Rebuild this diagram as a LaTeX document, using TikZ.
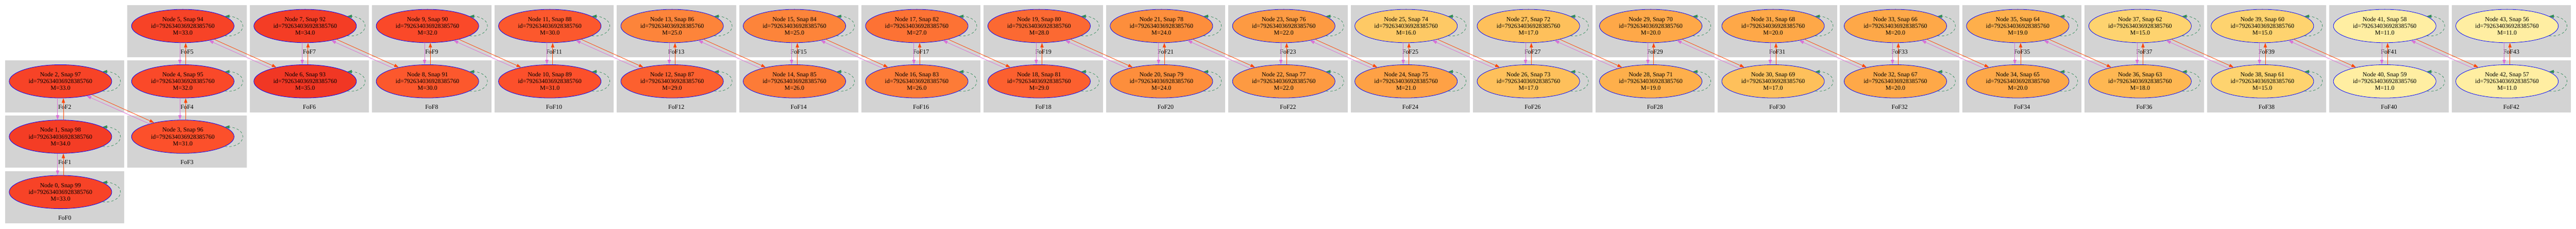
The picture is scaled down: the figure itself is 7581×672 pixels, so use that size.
\documentclass[tikz,border=0pt]{standalone}
\usepackage{fontspec}
\setmainfont{Liberation Serif}
\usetikzlibrary{arrows.meta,calc,shapes.geometric}
\definecolor{clgrey}{HTML}{D3D3D3}
\definecolor{corchid}{HTML}{DA70D6}
\definecolor{cored}{HTML}{FF4500}
\definecolor{cseagreen}{HTML}{2E8B57}
\definecolor{m11}{RGB}{255,238,162}
\definecolor{m15}{RGB}{254,211,111}
\definecolor{m16}{RGB}{254,201,101}
\definecolor{m17}{RGB}{254,192,91}
\definecolor{m18}{RGB}{254,183,82}
\definecolor{m19}{RGB}{254,175,75}
\definecolor{m20}{RGB}{254,168,72}
\definecolor{m21}{RGB}{254,161,69}
\definecolor{m22}{RGB}{253,154,66}
\definecolor{m24}{RGB}{253,142,60}
\definecolor{m25}{RGB}{253,132,58}
\definecolor{m26}{RGB}{253,123,55}
\definecolor{m27}{RGB}{253,114,52}
\definecolor{m28}{RGB}{252,105,50}
\definecolor{m29}{RGB}{252,96,47}
\definecolor{m30}{RGB}{252,88,45}
\definecolor{m31}{RGB}{252,80,43}
\definecolor{m32}{RGB}{250,73,41}
\definecolor{m33}{RGB}{247,67,39}
\definecolor{m34}{RGB}{244,61,37}
\definecolor{m35}{RGB}{241,55,36}
\begin{document}
\begin{tikzpicture}[x=1pt,y=-1pt,
  fofnode/.style={ellipse, draw=blue, line width=1.2pt, minimum width=302pt, minimum height=98pt,
    inner sep=0pt, align=center, font=\fontsize{18.1pt}{20pt}\selectfont},
  foflabel/.style={inner sep=0pt, font=\fontsize{18.1pt}{20pt}\selectfont},
  clusterbox/.style={fill=clgrey},
  oredge/.style={draw=cored, line width=1.2pt, -{Triangle[length=13.5pt,width=9.5pt]}},
  viedge/.style={draw=corchid, line width=1.2pt, -{Triangle[length=13.5pt,width=9.5pt]}},
  selfloop/.style={draw=cseagreen, line width=1.1pt, dash pattern=on 7pt off 6pt,
    -{Triangle[length=13.5pt,width=9.5pt]}}
]
\useasboundingbox (0,0) rectangle (7581,672);
\def\nodelist{0/0/3/33, 1/0/2/34, 2/0/1/33, 3/1/2/31, 4/1/1/32, 5/1/0/33, 6/2/1/35, 7/2/0/34,
  8/3/1/30, 9/3/0/32, 10/4/1/31, 11/4/0/30, 12/5/1/29, 13/5/0/25, 14/6/1/26, 15/6/0/25,
  16/7/1/26, 17/7/0/27, 18/8/1/29, 19/8/0/28, 20/9/1/24, 21/9/0/24, 22/10/1/22, 23/10/0/22,
  24/11/1/21, 25/11/0/16, 26/12/1/17, 27/12/0/17, 28/13/1/19, 29/13/0/20, 30/14/1/17, 31/14/0/20,
  32/15/1/20, 33/15/0/20, 34/16/1/20, 35/16/0/19, 36/17/1/18, 37/17/0/15, 38/18/1/15, 39/18/0/15,
  40/19/1/11, 41/19/0/11, 42/20/1/11, 43/20/0/11}
% clusters and their labels
\foreach \i/\c/\r/\m in \nodelist {
  \fill[clusterbox] (15+360*\c, 15+162.67*\r) rectangle +(351,153);
  \node[foflabel] (f\i) at (190.5+360*\c, 152+162.67*\r) {FoF\i};
}
% nodes
\foreach \i/\c/\r/\m in \nodelist {
  \pgfmathtruncatemacro{\snap}{99-\i}
  \node[fofnode, fill=m\m] (n\i) at (178+360*\c, 76.5+162.67*\r)
    {Node \i, Snap \snap\\id=792634036928385760\\M=\m.0};
}
% vertical pairs (lower \a, upper \b)
\foreach \a/\b in {0/1,1/2,3/4,4/5,6/7,8/9,10/11,12/13,14/15,16/17,18/19,20/21,22/23,
  24/25,26/27,28/29,30/31,32/33,34/35,36/37,38/39,40/41,42/43} {
  \draw[oredge] ([xshift=8.5pt]n\a.north) -- ([xshift=8.5pt]n\b.south);
  \draw[viedge] ([xshift=-8.5pt]n\b.south) -- ([xshift=-8.5pt]n\a.north);
}
% diagonal pairs (upper-left \a, lower-right \b)
\foreach \a/\b in {2/3,5/6,7/8,9/10,11/12,13/14,15/16,17/18,19/20,21/22,23/24,25/26,
  27/28,29/30,31/32,33/34,35/36,37/38,39/40,41/42} {
  \draw[oredge] (n\a.-23.75) -- (n\b.154.6);
  \draw[viedge] (n\b.159.75) -- (n\a.-29);
}
% self loops
\foreach \i/\c/\r/\m in \nodelist {
  \draw[selfloop] (n\i.-13.5) .. controls +(25,4) and +(0,20) .. ($(n\i.east)+(25,0)$)
    .. controls +(0,-20) and +(25,0) .. (n\i.13.5);
}
\end{tikzpicture}
\end{document}
